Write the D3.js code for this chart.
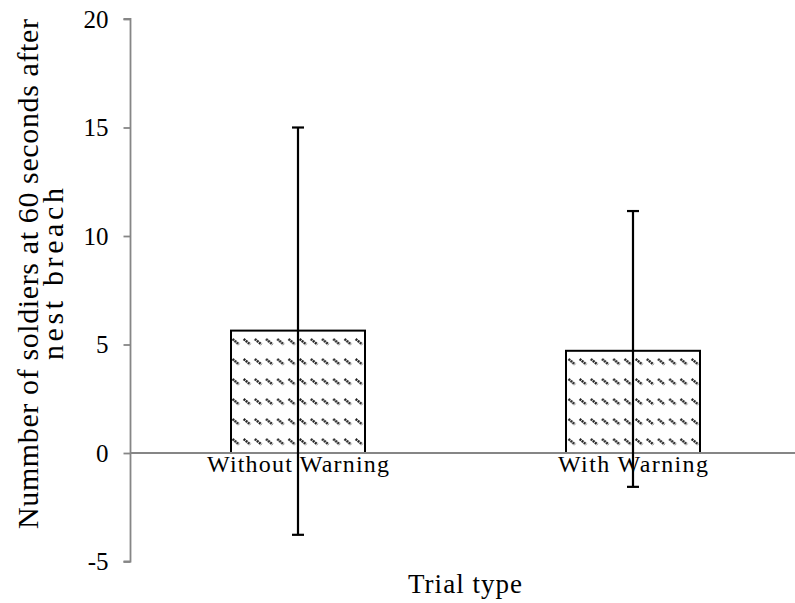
<!DOCTYPE html>
<html><head><meta charset="utf-8">
<script src="https://cdn.jsdelivr.net/npm/d3@7"></script>
<style>body{margin:0;background:#fff}svg{display:block}</style>
</head><body>
<script>
const categories = ["Without Warning", "With Warning"];
const means = [5.64, 4.71];
const errUpper = [15.0, 11.15];
const errLower = [-3.77, -1.56];
const yTicks = [-5, 0, 5, 10, 15, 20];
const yTitle = ["Nummber of soldiers at 60 seconds after", "nest breach"];
const xTitle = "Trial type";

const W = 795, H = 603;
const svg = d3.select("body").append("svg").attr("width", W).attr("height", H);
const font = "'Liberation Serif','Times New Roman',serif";

const x = d3.scaleBand().domain(categories).range([130.5, 800.5]).paddingInner(0).paddingOuter(0);
const y = d3.scaleLinear().domain([-5, 20]).range([561.5, 19]);

const defs = svg.append("defs");
const pat = defs.append("pattern").attr("id", "hatch").attr("patternUnits", "userSpaceOnUse")
  .attr("width", 11.2).attr("height", 20).attr("x", 231).attr("y", 332);
pat.append("rect").attr("width", 11.2).attr("height", 20).attr("fill", "#fff");
pat.append("line").attr("x1", 1.5).attr("y1", 7).attr("x2", 8).attr("y2", 12.5)
  .attr("stroke", "#222").attr("stroke-width", 2.4).attr("stroke-dasharray", "2,0.7");

const bw = x.bandwidth() * 0.4;
// bars
svg.selectAll("rect.bar").data(categories).enter().append("rect")
  .attr("x", d => x(d) + x.bandwidth() / 2 - bw / 2)
  .attr("y", (d, i) => y(means[i]))
  .attr("width", bw)
  .attr("height", (d, i) => y(0) - y(means[i]))
  .attr("fill", "url(#hatch)").attr("stroke", "#000").attr("stroke-width", 2);

// axes
const yAxis = svg.append("g").attr("transform", "translate(130.5,0)")
  .call(d3.axisLeft(y).tickValues(yTicks).tickSize(7).tickPadding(15).tickFormat(d3.format("d")));
yAxis.select(".domain").attr("stroke", "#868686").attr("stroke-width", 1.8).attr("d", `M-7,${y(20)}H0V${y(-5)}H-7`);
yAxis.selectAll(".tick line").attr("stroke", "#868686").attr("stroke-width", 1.8);
yAxis.selectAll(".tick text").attr("font-family", font).attr("font-size", 25).attr("fill", "#000")
  .text(d => d < 0 ? "-" + Math.abs(d) : d);

svg.append("line").attr("x1", x.range()[0]).attr("x2", x.range()[1]).attr("y1", y(0)).attr("y2", y(0))
  .attr("stroke", "#868686").attr("stroke-width", 1.8);

// category labels
const catLen = [182, 150];
svg.selectAll("text.cat").data(categories).enter().append("text")
  .attr("x", d => x(d) + x.bandwidth() / 2 - (categories.indexOf(d) === 0 ? 91 : 75)).attr("y", 472)
  .attr("font-family", font).attr("font-size", 24)
  .attr("textLength", (d, i) => catLen[i]).attr("lengthAdjust", "spacing").text(d => d);

// error bars
categories.forEach((c, i) => {
  const cx = x(c) + x.bandwidth() / 2;
  const g = svg.append("g").attr("stroke", "#000").attr("stroke-width", 2.2);
  g.append("line").attr("x1", cx).attr("x2", cx).attr("y1", y(errUpper[i])).attr("y2", y(errLower[i]));
  [errUpper[i], errLower[i]].forEach(v => g.append("line").attr("x1", cx - 6).attr("x2", cx + 6).attr("y1", y(v)).attr("y2", y(v)));
});

// titles
svg.append("text").attr("x", 408).attr("y", 593)
  .attr("font-family", font).attr("font-size", 27)
  .attr("textLength", 114).attr("lengthAdjust", "spacing").text(xTitle);
const titleLen = [510, 172];
yTitle.forEach((t, i) => {
  svg.append("text").attr("transform", `translate(${38 + i * 25},${274 + titleLen[i] / 2}) rotate(-90)`)
    .attr("font-family", font).attr("font-size", 30)
    .attr("textLength", titleLen[i]).attr("lengthAdjust", "spacing").text(t);
});
</script>
</body></html>
